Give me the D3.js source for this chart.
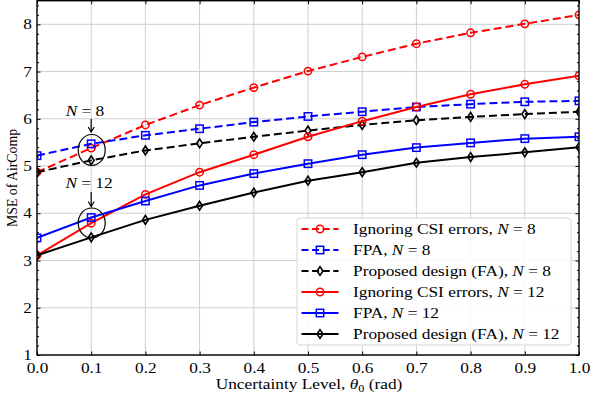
<!DOCTYPE html>
<html><head><meta charset="utf-8">
<script src="https://cdn.jsdelivr.net/npm/d3@7"></script>
<style>
html,body{margin:0;padding:0;background:#fff;}
text{font-family:"Liberation Serif","Times New Roman",serif;fill:#000;}
</style></head>
<body><svg id="c" width="592" height="394"></svg>
<script>
const xs = [0,0.1,0.2,0.3,0.4,0.5,0.6,0.7,0.8,0.9,1.0];
const ignoringN8 = [4.87,5.38,5.87,6.29,6.66,7.01,7.31,7.59,7.82,8.01,8.20];
const fpaN8 = [5.22,5.47,5.65,5.79,5.93,6.05,6.15,6.25,6.31,6.36,6.38];
const faN8 = [4.87,5.12,5.33,5.48,5.62,5.75,5.87,5.97,6.04,6.10,6.15];
const ignoringN12 = [3.11,3.79,4.40,4.87,5.24,5.62,5.95,6.25,6.52,6.73,6.91];
const fpaN12 = [3.48,3.91,4.26,4.59,4.84,5.05,5.24,5.39,5.49,5.58,5.62];
const faN12 = [3.11,3.49,3.86,4.16,4.44,4.69,4.87,5.07,5.19,5.29,5.40];
const xTicks = [0,0.1,0.2,0.3,0.4,0.5,0.6,0.7,0.8,0.9,1.0];
const yTicks = [1,2,3,4,5,6,7,8];
const seriesNames = ["Ignoring CSI errors, ","FPA, ","Proposed design (FA), ","Ignoring CSI errors, ","FPA, ","Proposed design (FA), "];
const seriesN = ["8","8","8","12","12","12"];

const series = [
  {v:ignoringN8, color:"#ff0000", dash:true, mk:"circle"},
  {v:fpaN8, color:"#0000ff", dash:true, mk:"square"},
  {v:faN8, color:"#000000", dash:true, mk:"diamond"},
  {v:ignoringN12, color:"#ff0000", dash:false, mk:"circle"},
  {v:fpaN12, color:"#0000ff", dash:false, mk:"square"},
  {v:faN12, color:"#000000", dash:false, mk:"diamond"}
];

const SX = 1.22, FS = 14.2;
const DASH = "8,4";
const svg = d3.select("#c");
const L = 37, R = 579, T = 0.7, B = 355;
const x = d3.scaleLinear().domain([0,1]).range([L,R]);
const y = d3.scaleLinear().domain([1,8.5]).range([B,T]);

svg.append("defs").append("clipPath").attr("id","clip")
  .append("rect").attr("x",L).attr("y",T).attr("width",R-L).attr("height",B-T);

// grid
const grid = svg.append("g");
grid.selectAll("line.gx").data(xTicks.slice(1,-1)).join("line")
  .attr("x1",d=>x(d)).attr("x2",d=>x(d)).attr("y1",T).attr("y2",B)
  .attr("stroke","#cfcfcf").attr("stroke-width",1);
grid.selectAll("line.gy").data(yTicks).join("line")
  .attr("y1",d=>y(d)).attr("y2",d=>y(d)).attr("x1",L).attr("x2",R)
  .attr("stroke","#cfcfcf").attr("stroke-width",1);

// axes (ticks inward)
const minorY = d3.range(1,8.51,0.2).filter(v=>Math.abs(v-Math.round(v))>1e-6);
function addAxis(axisFn, scale, tr, ticks, len, showLabels){
  const g = svg.append("g").attr("transform",tr)
    .call(axisFn(scale).tickValues(ticks).tickSizeInner(-len).tickSizeOuter(0).tickPadding(0)
      .tickFormat(showLabels ? null : ""));
  g.select(".domain").remove();
  g.selectAll(".tick line").attr("stroke","#000").attr("stroke-width",1);
  return g;
}
const xb = addAxis(d3.axisBottom, x, `translate(0,${B})`, xTicks, 3.5, true);
xb.selectAll(".tick text").attr("y",0).attr("dy",0)
  .attr("transform",`translate(0,17.5) scale(${SX},1)`)
  .attr("font-size",FS).text(d=>d.toFixed(1));
addAxis(d3.axisTop, x, `translate(0,${T})`, xTicks, 3.5, false);
const yl = addAxis(d3.axisLeft, y, `translate(${L},0)`, yTicks, 3.5, true);
yl.selectAll(".tick text").attr("x",0).attr("dy",0)
  .attr("transform",`translate(-5,4.6) scale(${SX},1)`).attr("font-size",FS);
addAxis(d3.axisLeft, y, `translate(${L},0)`, minorY, 2, false);
addAxis(d3.axisRight, y, `translate(${R},0)`, yTicks, 3.5, false);
addAxis(d3.axisRight, y, `translate(${R},0)`, minorY, 2, false);
svg.selectAll(".tick text").attr("font-family",null);

// series
const plot = svg.append("g").attr("clip-path","url(#clip)");
function marker(g, type, color, cx, cy){
  if(type==="circle"){
    g.append("circle").attr("cx",cx).attr("cy",cy).attr("r",3.7)
      .attr("fill","none").attr("stroke",color).attr("stroke-width",1.5);
  } else if(type==="square"){
    g.append("rect").attr("x",cx-3.7).attr("y",cy-3.7).attr("width",7.4).attr("height",7.4)
      .attr("fill","none").attr("stroke",color).attr("stroke-width",1.5);
  } else {
    g.append("path").attr("d",`M${cx},${cy-4.4}L${cx+2.9},${cy}L${cx},${cy+4.4}L${cx-2.9},${cy}Z`)
      .attr("fill","none").attr("stroke",color).attr("stroke-width",1.6);
  }
}
const line = d3.line().x((d,i)=>x(xs[i])).y(d=>y(d));
series.forEach(s=>{
  plot.append("path").datum(s.v).attr("d",line).attr("fill","none")
    .attr("stroke",s.color).attr("stroke-width",2)
    .attr("stroke-dasharray",s.dash?DASH:null);
  s.v.forEach((v,i)=>marker(plot,s.mk,s.color,x(xs[i]),y(v)));
});

// frame
svg.append("rect").attr("x",L).attr("y",T).attr("width",R-L).attr("height",B-T)
  .attr("fill","none").attr("stroke","#000").attr("stroke-width",1.4);

// math-style label "N = n"
function mathN(t, n){
  t.append("tspan").attr("font-style","italic").text("N");
  t.append("tspan").attr("dx",3.5).text("=");
  t.append("tspan").attr("dx",3.5).text(n);
}
function stext(xp, yp, n){
  const g = svg.append("g").attr("transform",`translate(${xp},${yp}) scale(${SX},1)`);
  const t = g.append("text").attr("font-size",FS).attr("text-anchor","middle");
  mathN(t, n);
}
function arrow(xp, y1, y2){
  svg.append("line").attr("x1",xp).attr("x2",xp).attr("y1",y1).attr("y2",y2)
    .attr("stroke","#000").attr("stroke-width",1.2);
  svg.append("path").attr("d",`M${xp-3},${y2-5}L${xp},${y2}L${xp+3},${y2-5}`)
    .attr("fill","none").attr("stroke","#000").attr("stroke-width",1.2);
}
stext(85,115.5,"8");
arrow(x(0.1),119,132);
svg.append("ellipse").attr("cx",x(0.1)+0.5).attr("cy",150).attr("rx",13.5).attr("ry",15.5)
  .attr("fill","none").attr("stroke","#000").attr("stroke-width",1.2);
stext(89,187.5,"12");
arrow(x(0.1),192,206.5);
svg.append("ellipse").attr("cx",x(0.1)+0.5).attr("cy",223).attr("rx",13.5).attr("ry",15)
  .attr("fill","none").attr("stroke","#000").attr("stroke-width",1.2);

// legend
const lg = svg.append("g");
lg.append("rect").attr("x",297).attr("y",218).attr("width",274).attr("height",127).attr("rx",3)
  .attr("fill","#fff").attr("fill-opacity",0.85).attr("stroke","#d6d6d6").attr("stroke-width",1);
series.forEach((s,i)=>{
  const yy = 229 + i*21;
  lg.append("line").attr("x1",301.5).attr("x2",338.5).attr("y1",yy).attr("y2",yy)
    .attr("stroke",s.color).attr("stroke-width",2).attr("stroke-dasharray",s.dash?"7,3.6":null);
  marker(lg,s.mk,s.color,320,yy);
  const g = lg.append("g").attr("transform",`translate(353,${yy+4.8}) scale(${SX},1)`);
  const t = g.append("text").attr("font-size",FS);
  t.append("tspan").text(seriesNames[i]);
  mathN(t, seriesN[i]);
});

// axis labels
const xl = svg.append("g").attr("transform",`translate(309,389) scale(${SX},1)`)
  .append("text").attr("font-size",FS).attr("text-anchor","middle");
xl.append("tspan").text("Uncertainty Level, ");
xl.append("tspan").attr("font-style","italic").text("θ");
xl.append("tspan").attr("font-size",10).attr("dy",2.5).text("0");
xl.append("tspan").attr("dy",-2.5).text(" (rad)");
svg.append("text").attr("font-size",13.8).attr("text-anchor","middle")
  .attr("transform","translate(17,178) rotate(-90)").text("MSE of AirComp");
</script></body></html>
